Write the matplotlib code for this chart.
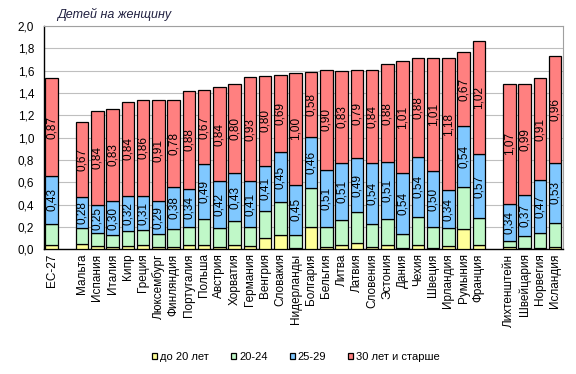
import matplotlib
matplotlib.use("Agg")
import matplotlib.pyplot as plt
import numpy as np
from matplotlib.ticker import FuncFormatter

plt.rcParams['font.family'] = ['Liberation Sans', 'DejaVu Sans']

# three groups of bars: EU total, member states, EFTA countries
eu_name = ["ЕС-27"]
eu_u20 = [0.04]
eu_20_24 = [0.19]
eu_25_29 = [0.43]
eu_30p = [0.87]

members = ["Мальта", "Испания", "Италия", "Кипр", "Греция", "Люксембург",
           "Финляндия", "Португалия", "Польша", "Австрия", "Хорватия",
           "Германия", "Венгрия", "Словакия", "Нидерланды", "Болгария",
           "Бельгия", "Литва", "Латвия", "Словения", "Эстония", "Дания",
           "Чехия", "Швеция", "Ирландия", "Румыния", "Франция"]
mem_u20 = [0.05, 0.03, 0.02, 0.03, 0.04, 0.02, 0.02, 0.04, 0.04, 0.02, 0.04,
           0.03, 0.10, 0.13, 0.01, 0.20, 0.02, 0.04, 0.06, 0.02, 0.04, 0.01,
           0.04, 0.01, 0.03, 0.18, 0.04]
mem_20_24 = [0.14, 0.12, 0.11, 0.13, 0.13, 0.12, 0.16, 0.16, 0.23, 0.17, 0.21,
             0.17, 0.24, 0.29, 0.12, 0.35, 0.18, 0.22, 0.27, 0.21, 0.23, 0.13,
             0.25, 0.19, 0.16, 0.38, 0.24]
mem_25_29 = [0.28, 0.25, 0.30, 0.32, 0.31, 0.29, 0.38, 0.34, 0.49, 0.42, 0.43,
             0.41, 0.41, 0.45, 0.45, 0.46, 0.51, 0.51, 0.49, 0.54, 0.51, 0.54,
             0.54, 0.50, 0.34, 0.54, 0.57]
mem_30p = [0.67, 0.84, 0.83, 0.84, 0.86, 0.91, 0.78, 0.88, 0.67, 0.84, 0.80,
           0.93, 0.80, 0.69, 1.00, 0.58, 0.90, 0.83, 0.79, 0.84, 0.88, 1.01,
           0.88, 1.01, 1.18, 0.67, 1.02]

efta = ["Лихтенштейн", "Швейцария", "Норвегия", "Исландия"]
efta_u20 = [0.02, 0.01, 0.01, 0.02]
efta_20_24 = [0.05, 0.11, 0.14, 0.22]
efta_25_29 = [0.34, 0.37, 0.47, 0.53]
efta_30p = [1.07, 0.99, 0.91, 0.96]

legend_labels = ["до 20 лет", "20-24", "25-29", "30 лет и старше"]
colors = ["#FFFF99", "#C0F8C8", "#80C8FF", "#FF8080"]

names = eu_name + members + efta
u20 = np.array(eu_u20 + mem_u20 + efta_u20)
a20 = np.array(eu_20_24 + mem_20_24 + efta_20_24)
a25 = np.array(eu_25_29 + mem_25_29 + efta_25_29)
a30 = np.array(eu_30p + mem_30p + efta_30p)

# one empty slot between the groups
x = np.concatenate([[0], np.arange(2, 2 + len(members)),
                    np.arange(3 + len(members), 3 + len(members) + len(efta))])

fig = plt.figure(figsize=(5.76, 3.74), dpi=100)
ax = fig.add_axes([0.0764, 0.3334, 0.9006, 0.5971])

w = 0.82
bottom = np.zeros(len(x))
segs = [u20, a20, a25, a30]
bars = []
for vals, c, lab in zip(segs, colors, legend_labels):
    b = ax.bar(x, vals, w, bottom=bottom, color=c, edgecolor="black",
               linewidth=0.9, label=lab, zorder=3)
    bars.append(b)
    bottom = bottom + vals

# value labels on the two upper segments
base = u20 + a20
for vals, start in [(a25, base), (a30, base + a25)]:
    for xi, v, s in zip(x, vals, start):
        ax.text(xi, s + v / 2, ("%.2f" % v).replace(".", ","), rotation=90,
                ha="center", va="center", fontsize=8.5, zorder=4)

ax.set_xlim(-0.5, x[-1] + 0.5)
ax.set_ylim(0, 2.0)
ax.set_yticks(np.arange(0, 2.01, 0.2))
ax.yaxis.set_major_formatter(FuncFormatter(lambda v, p: ("%.1f" % v).replace(".", ",")))
ax.set_xticks(x)
ax.set_xticklabels(names, rotation=90, fontsize=8.5, va="top", ha="center")
ax.tick_params(axis="x", length=0, pad=3)
ax.tick_params(axis="y", length=0, pad=7, labelsize=8.5)
ax.grid(axis="y", color="#BFBFBF", linewidth=0.8, zorder=0)
ax.set_axisbelow(True)

for side in ["top", "right"]:
    ax.spines[side].set_color("#A0A0A0")
for side in ["left", "bottom"]:
    ax.spines[side].set_color("black")
    ax.spines[side].set_linewidth(1.0)

fig.text(0.099, 0.962, "Детей на женщину", style="italic", fontsize=9,
         color="#202040", ha="left", va="center")

fig.legend(handles=bars, labels=legend_labels, loc="center",
           bbox_to_anchor=(0.514, 0.045), ncol=4, frameon=False, fontsize=8,
           handlelength=0.45, handleheight=0.45, handletextpad=0.25,
           columnspacing=2.0)

fig.savefig("out.png", dpi=100)
